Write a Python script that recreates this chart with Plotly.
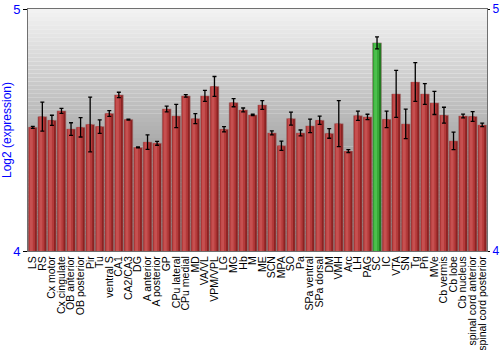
import plotly.graph_objects as go

categories = ["LS", "RS", "Cx motor", "Cx cingulate", "OB anterior", "OB posterior", "Pir", "Tu",
              "ventral S", "CA1", "CA2/CA3", "DG", "A anterior", "A posterior", "GP", "CPu lateral",
              "CPu medial", "MD", "VA/VL", "VPM/VPL", "LG", "MG", "Hb", "M", "ME", "SCN", "MPA",
              "SO", "Pa", "SPa ventral", "SPa dorsal", "DM", "VMH", "Arc", "LH", "PAG", "SC", "IC",
              "VTA", "SN", "Tg", "Pn", "MVe", "Cb vermis", "Cb lobe", "Cb nucleus",
              "spinal cord anterior", "spinal cord posterior"]
values = [4.511, 4.555, 4.540, 4.579, 4.504, 4.511, 4.523, 4.514, 4.568, 4.645, 4.543, 4.428,
          4.450, 4.445, 4.587, 4.558, 4.641, 4.547, 4.641, 4.680, 4.503, 4.613, 4.583, 4.562,
          4.603, 4.488, 4.435, 4.547, 4.488, 4.517, 4.540, 4.486, 4.526, 4.413, 4.559, 4.554,
          4.860, 4.544, 4.649, 4.525, 4.698, 4.649, 4.612, 4.561, 4.455, 4.558, 4.556, 4.521]
errors = [0.004, 0.060, 0.021, 0.010, 0.026, 0.040, 0.113, 0.028, 0.012, 0.011, 0.002, 0.002,
          0.030, 0.008, 0.012, 0.048, 0.005, 0.021, 0.023, 0.041, 0.011, 0.017, 0.008, 0.003,
          0.018, 0.008, 0.019, 0.027, 0.012, 0.028, 0.017, 0.020, 0.095, 0.006, 0.019, 0.011,
          0.025, 0.034, 0.097, 0.061, 0.080, 0.043, 0.048, 0.033, 0.036, 0.008, 0.020, 0.007]
highlight = "SC"
y_ticks = [4, 5]

base_col = ["#1f7a1f" if c == highlight else "#8c2222" for c in categories]
mid_col = ["#38a838" if c == highlight else "#b43a3a" for c in categories]
hi_col = ["#4cc04c" if c == highlight else "#c65050" for c in categories]

fig = go.Figure()
fig.add_trace(go.Bar(x=categories, y=values, width=0.92, marker=dict(color=base_col, line=dict(width=0.6, color="#a08080")), hoverinfo="skip"))
fig.add_trace(go.Bar(x=categories, y=values, width=0.62, offset=-0.4, marker=dict(color=mid_col, line=dict(width=0)), hoverinfo="skip"))
fig.add_trace(go.Bar(x=categories, y=values, width=0.3, offset=-0.3, marker=dict(color=hi_col, line=dict(width=0)), hoverinfo="skip"))
fig.add_trace(go.Bar(x=categories, y=values, width=0.92, marker=dict(color="rgba(0,0,0,0)", line=dict(width=0)),
                     error_y=dict(type="data", array=errors, color="black", thickness=1.3, width=2)))
fig.add_trace(go.Scatter(x=[categories[0]], y=[4.5], yaxis="y2", mode="markers", marker=dict(opacity=0), hoverinfo="skip"))

# gradient background
n = 60
shapes = []
for i in range(n):
    t = i / (n - 1)
    v = int(round(242 - t * 130))
    shapes.append(dict(type="rect", xref="paper", yref="paper", x0=0, x1=1,
                       y0=1 - (i + 1) / n, y1=1 - i / n, layer="below",
                       fillcolor=f"rgb({v},{v},{v})", line=dict(width=0)))

fig.update_layout(
    width=500, height=350,
    margin=dict(l=28, r=13, t=9, b=99),
    barmode="overlay", bargap=0.08,
    showlegend=False,
    paper_bgcolor="white", plot_bgcolor="rgba(0,0,0,0)",
    shapes=shapes,
    font=dict(family="Liberation Sans, Arial, sans-serif", color="black"),
    xaxis=dict(type="category", tickangle=-90, tickfont=dict(size=10.5, color="black"),
               tickmode="array", tickvals=categories, ticktext=categories, automargin=False,
               showline=True, mirror=True, linecolor="#707070", linewidth=1,
               ticks="", ticklen=0, showgrid=False, range=[-0.5, len(categories) - 0.5]),
    yaxis=dict(range=[4, 5], tickvals=y_ticks, ticktext=[str(t) for t in y_ticks], automargin=False,
               tickfont=dict(size=13, color="blue"), ticks="outside", ticklen=4, tickcolor="black",
               showline=True, linecolor="#707070", linewidth=1, showgrid=False, zeroline=False,
               title=dict(text="Log2 (expression)", font=dict(size=12, color="blue"), standoff=0)),
    yaxis2=dict(range=[4, 5], overlaying="y", side="right", tickvals=y_ticks, automargin=False,
                ticktext=[str(t) for t in y_ticks], tickfont=dict(size=12, color="blue"),
                ticks="outside", ticklen=2, tickcolor="black", showline=True, linecolor="#707070",
                linewidth=1, showgrid=False, zeroline=False),
)

fig.write_html("out.html")
